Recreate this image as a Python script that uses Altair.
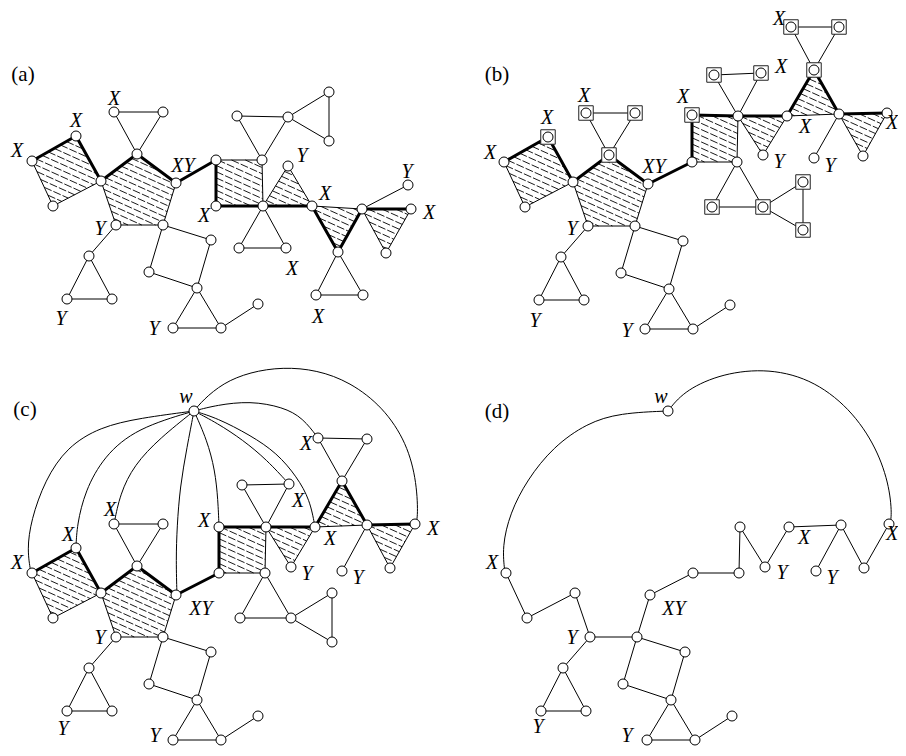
import math
import altair as alt
import pandas as pd

# ---------------- data ----------------
# part of the graph shared by all four drawings (coordinates as in panel (a))
BASE_NODES = {
    "p1": (32, 161), "p2": (76, 136), "p3": (101, 181), "p4": (53, 206),
    "q1": (137, 154), "q2": (176, 183), "q3": (163, 225), "q4": (116, 225),
    "t1": (114, 112), "t2": (163, 112),
    "r1": (89, 256), "r2": (67, 299), "r3": (112, 299),
    "s1": (211, 240), "s2": (197, 288), "s3": (149, 272),
    "u1": (173, 328), "u2": (221, 328), "u3": (258, 304),
}
BASE_THICK = [("p1", "p2"), ("p2", "p3"), ("p3", "q1"), ("q1", "q2")]
BASE_THIN = [("p3", "p4"), ("p4", "p1"), ("q2", "q3"), ("q3", "q4"), ("q4", "p3"),
             ("q1", "t1"), ("q1", "t2"), ("t1", "t2"),
             ("q4", "r1"), ("r1", "r2"), ("r1", "r3"), ("r2", "r3"),
             ("q3", "s1"), ("s1", "s2"), ("s2", "s3"), ("s3", "q3"),
             ("s2", "u1"), ("s2", "u2"), ("u1", "u2"), ("u2", "u3")]
BASE_FACES = [["p1", "p2", "p3", "p4"], ["p3", "q1", "q2", "q3", "q4"]]

# panel (a)
A_NODES = {
    "a1": (216, 160), "a2": (262, 160), "a3": (263, 206), "a4": (216, 206),
    "b1": (237, 116), "b2": (288, 117), "c1": (329, 92), "c2": (329, 141),
    "d1": (288, 166), "d2": (312, 206), "e1": (239, 248), "e2": (286, 248),
    "f1": (362, 209), "f2": (411, 209), "f3": (386, 253), "f4": (408, 185),
    "g": (338, 252), "h1": (316, 295), "h2": (363, 295),
}
A_THICK = [("q2", "a1"), ("a1", "a4"), ("a4", "a3"), ("a3", "d2"), ("d2", "g"),
           ("g", "f1"), ("f1", "f2")]
A_THIN = [("a1", "a2"), ("a2", "a3"), ("a2", "b1"), ("a2", "b2"), ("b1", "b2"),
          ("b2", "c1"), ("b2", "c2"), ("c1", "c2"), ("a3", "d1"), ("d1", "d2"),
          ("a3", "e1"), ("a3", "e2"), ("e1", "e2"), ("d2", "f1"), ("f1", "f3"),
          ("f2", "f3"), ("f1", "f4"), ("g", "h1"), ("g", "h2"), ("h1", "h2")]
A_FACES = [["a1", "a2", "a3", "a4"], ["a3", "d1", "d2"], ["d2", "f1", "g"], ["f1", "f2", "f3"]]
A_LABELS = [(17, 151, "X"), (76, 121, "X"), (114, 99, "X"), (183, 166, "XY"),
            (100, 229, "Y"), (61, 319, "Y"), (154, 329, "Y"), (302, 156, "Y"),
            (204, 216, "X"), (325, 194, "X"), (407, 172, "Y"), (429, 213, "X"),
            (292, 269, "X"), (318, 317, "X")]

# panel (b)
B_NODES = {
    "B1": (692, 115), "B2": (738, 116), "B3": (737, 162), "B4": (692, 162),
    "C1": (714, 75), "C2": (761, 73), "D1": (787, 116), "D2": (763, 155),
    "E": (814, 70), "F": (839, 114), "G1": (791, 27), "G2": (839, 27),
    "H1": (887, 113), "H2": (863, 156), "I": (814, 158),
    "J1": (712, 207), "J2": (763, 207), "K1": (803, 182), "K2": (803, 230),
}
B_THICK = [("q2", "B4"), ("B4", "B1"), ("B1", "B2"), ("B2", "D1"), ("D1", "E"),
           ("E", "F"), ("F", "H1")]
B_THIN = [("B2", "B3"), ("B3", "B4"), ("B2", "C1"), ("B2", "C2"), ("C1", "C2"),
          ("B2", "D2"), ("D1", "D2"), ("D1", "F"), ("E", "G1"), ("E", "G2"),
          ("G1", "G2"), ("F", "H2"), ("H1", "H2"), ("F", "I"),
          ("B3", "J1"), ("B3", "J2"), ("J1", "J2"), ("J2", "K1"), ("J2", "K2"), ("K1", "K2")]
B_FACES = [["B1", "B2", "B3", "B4"], ["B2", "D1", "D2"], ["D1", "E", "F"], ["F", "H1", "H2"]]
B_BOXED = ["p2", "q1", "t1", "t2", "B1", "C1", "C2", "E", "G1", "G2", "J1", "J2", "K1", "K2"]
B_LABELS = [(490, 153, "X"), (547, 118, "X"), (584, 96, "X"), (654, 167, "XY"),
            (572, 229, "Y"), (535, 321, "Y"), (627, 331, "Y"),
            (683, 97, "X"), (781, 67, "X"), (779, 162, "Y"), (805, 127, "X"),
            (779, 19, "X"), (892, 123, "X"), (830, 166, "Y")]

# panel (c)
C_NODES = {
    "w": (194, 411),
    "ca1": (219, 527), "ca2": (266, 527), "ca3": (265, 573), "ca4": (219, 573),
    "cb1": (242, 485), "cb2": (289, 484), "cd1": (291, 567), "cd2": (315, 527),
    "cg": (342, 481), "cf1": (367, 525), "ch1": (318, 438), "ch2": (367, 439),
    "cf2": (415, 524), "cf3": (390, 568), "cf4": (342, 571),
    "ce1": (240, 618), "ce2": (291, 618), "cc1": (332, 593), "cc2": (332, 642),
}
C_THICK = [("q2", "ca4"), ("ca4", "ca1"), ("ca1", "ca2"), ("ca2", "cd2"), ("cd2", "cg"),
           ("cg", "cf1"), ("cf1", "cf2")]
C_THIN = [("ca2", "ca3"), ("ca3", "ca4"), ("ca2", "cb1"), ("ca2", "cb2"), ("cb1", "cb2"),
          ("ca2", "cd1"), ("cd1", "cd2"), ("cd2", "cf1"), ("cg", "ch1"), ("cg", "ch2"),
          ("ch1", "ch2"), ("cf1", "cf3"), ("cf2", "cf3"), ("cf1", "cf4"),
          ("ca3", "ce1"), ("ca3", "ce2"), ("ce1", "ce2"), ("ce2", "cc1"), ("ce2", "cc2"),
          ("cc1", "cc2")]
C_FACES = [["ca1", "ca2", "ca3", "ca4"], ["ca2", "cd2", "cd1"], ["cd2", "cg", "cf1"],
           ["cf1", "cf2", "cf3"]]
# curved edges from w: waypoints
C_ARCS = [
    [(194, 411), (140, 418), (100, 427), (67, 447), (45, 480), (31, 520), (27, 550), (31, 573)],
    [(194, 411), (137, 428), (104, 456), (85, 491), (77, 525), (76, 547)],
    [(194, 411), (160, 438), (134, 465), (120, 494), (114, 524)],
    [(194, 411), (187, 447), (180, 487), (177, 527), (176, 560), (177, 596)],
    [(194, 411), (207, 440), (215, 470), (218, 500), (219, 527)],
    [(194, 411), (217, 423), (243, 440), (267, 460), (289, 484)],
    [(194, 411), (217, 418), (250, 435), (277, 453), (297, 477), (310, 500), (315, 527)],
    [(194, 411), (217, 405), (250, 401), (283, 407), (303, 418), (318, 438)],
    [(194, 411), (203, 400), (223, 383), (250, 372), (283, 367), (317, 370), (350, 382),
     (383, 407), (407, 443), (417, 483), (418, 520), (415, 524)],
]
C_LABELS = [(186, 397, "w"), (17, 563, "X"), (68, 535, "X"), (110, 510, "X"),
            (204, 521, "X"), (201, 609, "XY"), (100, 638, "Y"), (63, 729, "Y"),
            (155, 736, "Y"), (298, 501, "X"), (307, 574, "Y"), (330, 539, "X"),
            (306, 444, "X"), (433, 529, "X"), (358, 578, "Y")]

# panel (d): the tree left when the shaded faces of (c) are contracted
D_EDGES = [("p1", "p4"), ("p4", "p3"), ("p3", "q4"), ("q4", "q3"), ("q3", "q2"),
           ("q2", "ca4"), ("ca4", "ca3"), ("ca3", "ca2"), ("ca2", "cd1"), ("cd1", "cd2"),
           ("cd2", "cf1"), ("cf1", "cf4"), ("cf1", "cf3"), ("cf3", "cf2"),
           ("q4", "r1"), ("r1", "r2"), ("r1", "r3"), ("r2", "r3"),
           ("q3", "s1"), ("s1", "s2"), ("s2", "s3"), ("s3", "q3"),
           ("s2", "u1"), ("s2", "u2"), ("u1", "u2"), ("u2", "u3")]
D_ARCS = [
    [(668, 411), (620, 413), (587, 423), (553, 447), (527, 480), (510, 513), (502, 547), (505, 573)],
    [(668, 411), (683, 392), (717, 375), (763, 368), (810, 378), (850, 408), (877, 448),
     (890, 488), (892, 519), (889, 524)],
]
D_LABELS = [(661, 397, "w"), (492, 563, "X"), (572, 638, "Y"), (674, 609, "XY"),
            (782, 573, "Y"), (804, 538, "X"), (832, 578, "Y"), (892, 534, "X"),
            (538, 727, "Y"), (627, 736, "Y")]

PANEL_TAGS = [(23, 75, "(a)"), (497, 75, "(b)"), (25, 410, "(c)"), (497, 412, "(d)")]

# ---------------- layout helpers ----------------
OFF_B = (472, 1)
OFF_C = (0, 412)
OFF_D = (474, 0)   # (d) is drawn from (c)'s positions


def shift(nodes, dx, dy):
    return {k: (x + dx, y + dy) for k, (x, y) in nodes.items()}


nodes_a = {**BASE_NODES, **A_NODES}
nodes_b = {**shift(BASE_NODES, *OFF_B), **B_NODES}
nodes_c = {**shift(BASE_NODES, *OFF_C), **C_NODES}
nodes_d = shift(nodes_c, *OFF_D)

d_names = sorted({n for e in D_EDGES for n in e} | {"w"})

panels = [
    dict(nodes=nodes_a, draw=list(nodes_a), thick=BASE_THICK + A_THICK, thin=BASE_THIN + A_THIN,
         faces=BASE_FACES + A_FACES, arcs=[], boxed=[], labels=A_LABELS),
    dict(nodes=nodes_b, draw=list(nodes_b), thick=BASE_THICK + B_THICK, thin=BASE_THIN + B_THIN,
         faces=BASE_FACES + B_FACES, arcs=[], boxed=B_BOXED, labels=B_LABELS),
    dict(nodes=nodes_c, draw=list(nodes_c), thick=BASE_THICK + C_THICK, thin=BASE_THIN + C_THIN,
         faces=BASE_FACES + C_FACES, arcs=C_ARCS, boxed=[], labels=C_LABELS),
    dict(nodes=nodes_d, draw=d_names, thick=[], thin=D_EDGES, faces=[],
         arcs=D_ARCS, boxed=[], labels=D_LABELS),
]

SLOPE = 0.45   # hatch direction
GAP = 6.2      # hatch spacing


def hatch(poly):
    vals = [y - SLOPE * x for x, y in poly]
    lo, hi = min(vals), max(vals)
    segs = []
    for k in range(math.floor(lo / GAP) + 1, math.ceil(hi / GAP)):
        c = k * GAP
        pts = []
        for i in range(len(poly)):
            (x1, y1), (x2, y2) = poly[i], poly[(i + 1) % len(poly)]
            f1, f2 = y1 - SLOPE * x1 - c, y2 - SLOPE * x2 - c
            if (f1 < 0) != (f2 < 0):
                t = f1 / (f1 - f2)
                pts.append((x1 + t * (x2 - x1), y1 + t * (y2 - y1)))
        if len(pts) >= 2:
            pts.sort()
            (ax, ay), (bx, by) = pts[0], pts[-1]
            if bx - ax > 1.5:
                segs.append(dict(x=ax, y=ay, x2=bx, y2=by))
    return segs


edge_rows, hatch_rows, arc_rows, node_rows, box_rows, label_rows = [], [], [], [], [], []
for pi, P in enumerate(panels):
    nd = P["nodes"]
    for face in P["faces"]:
        hatch_rows += hatch([nd[n] for n in face])
    for width, lst in ((1.0, P["thin"]), (3.0, P["thick"])):
        for u, v in lst:
            edge_rows.append(dict(x=nd[u][0], y=nd[u][1], x2=nd[v][0], y2=nd[v][1], sw=width))
    for ai, arc in enumerate(P["arcs"]):
        for i, (x, y) in enumerate(arc):
            arc_rows.append(dict(x=x, y=y, arc=f"{pi}-{ai}", i=i))
    for n in P["draw"]:
        node_rows.append(dict(x=nd[n][0], y=nd[n][1]))
    for n in P["boxed"]:
        box_rows.append(dict(x=nd[n][0], y=nd[n][1]))
    for x, y, t in P["labels"]:
        label_rows.append(dict(x=x, y=y, text=t))

tag_rows = [dict(x=x, y=y, text=t) for x, y, t in PANEL_TAGS]

W, H = 890, 740
XS = alt.Scale(domain=[8, 8 + W], nice=False, zero=False)
YS = alt.Scale(domain=[8, 8 + H], nice=False, zero=False, reverse=True)
SERIF = "Liberation Serif, Times New Roman, Times, DejaVu Serif, serif"


def X(f="x"):
    return alt.X(f"{f}:Q", scale=XS, axis=None)


def Y(f="y"):
    return alt.Y(f"{f}:Q", scale=YS, axis=None)


hatch_layer = alt.Chart(pd.DataFrame(hatch_rows)).mark_rule(
    stroke="black", strokeWidth=0.9, strokeDash=[8, 2]
).encode(x=X(), y=Y(), x2="x2:Q", y2="y2:Q")

edge_layer = alt.Chart(pd.DataFrame(edge_rows)).mark_rule(
    stroke="black", strokeCap="round"
).encode(x=X(), y=Y(), x2="x2:Q", y2="y2:Q",
         strokeWidth=alt.StrokeWidth("sw:Q", scale=None))

arc_layer = alt.Chart(pd.DataFrame(arc_rows)).mark_line(
    stroke="black", strokeWidth=1, interpolate="basis"
).encode(x=X(), y=Y(), detail="arc:N", order="i:Q")

box_layer = alt.Chart(pd.DataFrame(box_rows)).mark_square(
    size=210, fill="white", stroke="#222", strokeWidth=1, opacity=1
).encode(x=X(), y=Y())

node_layer = alt.Chart(pd.DataFrame(node_rows)).mark_circle(
    size=100, fill="white", stroke="black", strokeWidth=1, opacity=1
).encode(x=X(), y=Y())

label_layer = alt.Chart(pd.DataFrame(label_rows)).mark_text(
    font=SERIF, fontStyle="italic", fontSize=20, align="center",
    baseline="middle", color="black"
).encode(x=X(), y=Y(), text="text:N")

tag_layer = alt.Chart(pd.DataFrame(tag_rows)).mark_text(
    font=SERIF, fontSize=21, align="center", baseline="middle", color="black"
).encode(x=X(), y=Y(), text="text:N")

chart = alt.layer(
    hatch_layer, edge_layer, arc_layer, box_layer, node_layer, label_layer, tag_layer
).properties(width=W, height=H, padding=0, autosize="none", background="white"
).configure_view(strokeWidth=0)

chart.save("out.html", embed_options={"renderer": "svg", "actions": False})
